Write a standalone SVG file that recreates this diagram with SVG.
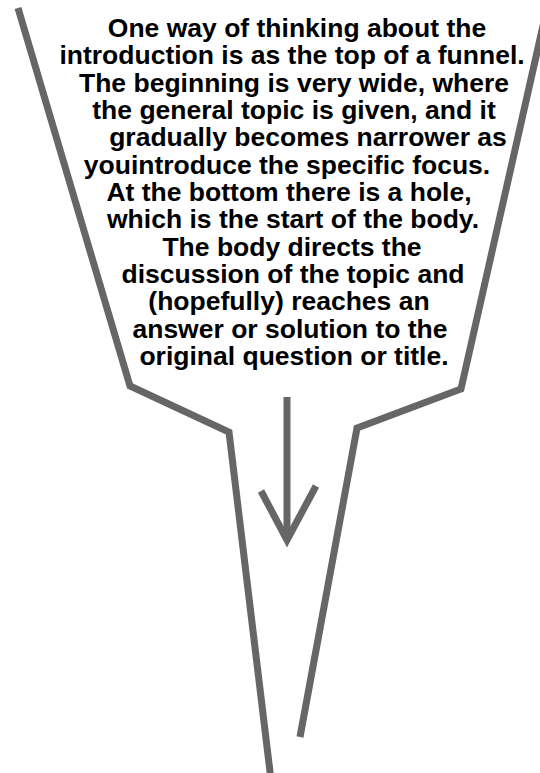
<svg xmlns="http://www.w3.org/2000/svg" width="540" height="773" viewBox="0 0 540 773">
<style>
.ln{fill:none;stroke:#666666;stroke-width:7;stroke-linejoin:miter;stroke-linecap:butt}
.t{font-family:"Liberation Sans",Arial,sans-serif;font-weight:bold;font-size:26.5px;fill:#000;text-anchor:middle}
</style>
<rect width="540" height="773" fill="#fff"/>
<g id="funnel">
<path class="ln" d="M18,8 L130,386 L229,432 L271,780"/>
<path class="ln" d="M547,8 L461,389 L357,428 L300,737"/>
</g>
<g id="text">
<text class="t" x="297" y="37">One way of thinking about the</text>
<text class="t" x="292" y="64.3">introduction is as the top of a funnel.</text>
<text class="t" x="294" y="91.7">The beginning is very wide, where</text>
<text class="t" x="294" y="119">the general topic is given, and it</text>
<text class="t" x="308" y="146.3">gradually becomes narrower as</text>
<text class="t" x="287" y="173.7">youintroduce the specific focus.</text>
<text class="t" x="289" y="201">At the bottom there is a hole,</text>
<text class="t" x="293" y="228.3">which is the start of the body.</text>
<text class="t" x="292" y="255.7">The body directs the</text>
<text class="t" x="293" y="283">discussion of the topic and</text>
<text class="t" x="289" y="310.3">(hopefully) reaches an</text>
<text class="t" x="290" y="337.7">answer or solution to the</text>
<text class="t" x="294" y="365">original question or title.</text>
</g>
<g id="connectors">
<line class="ln" x1="287" y1="397" x2="287" y2="538" stroke-width="6"/>
<path class="ln" d="M261,491 L287,540 L316,486"/>
</g>
</svg>
